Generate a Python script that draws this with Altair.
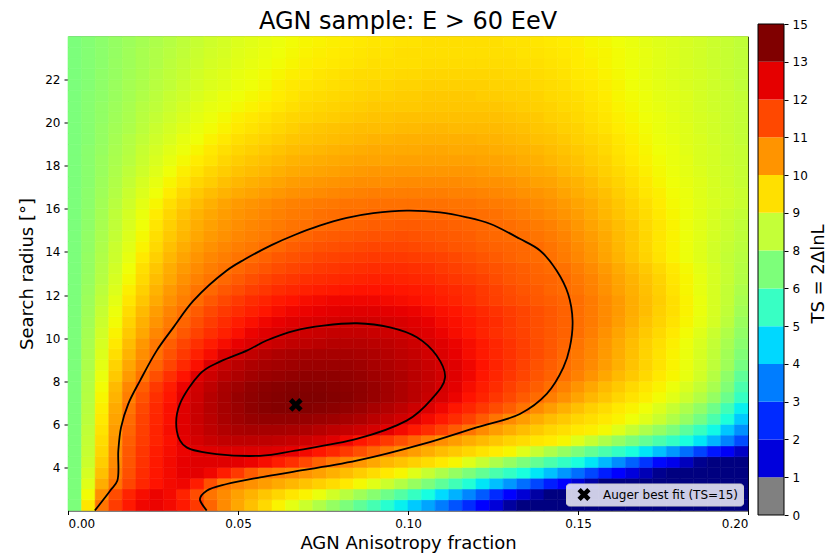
import altair as alt
import pandas as pd

# ---------------- text ----------------
TITLE = "AGN sample: E > 60 EeV"
X_LABEL = "AGN Anisotropy fraction"
Y_LABEL = "Search radius [°]"
CBAR_LABEL = "TS = 2ΔlnL"
LEGEND_LABEL = "Auger best fit (TS=15)"

# ---------------- data ----------------
# cell edges of the TS grid (anisotropy fraction, search radius in deg)
X_EDGES = [0.000, 0.004, 0.008, 0.012, 0.016, 0.020, 0.024, 0.028, 0.032, 0.036,
           0.040, 0.044, 0.048, 0.052, 0.056, 0.060, 0.064, 0.068, 0.072, 0.076,
           0.080, 0.084, 0.088, 0.092, 0.096, 0.100, 0.104, 0.108, 0.112, 0.116,
           0.120, 0.124, 0.128, 0.132, 0.136, 0.140, 0.144, 0.148, 0.152, 0.156,
           0.160, 0.164, 0.168, 0.172, 0.176, 0.180, 0.184, 0.188, 0.192, 0.196, 0.200]
Y_EDGES = [2.0, 2.5, 3.0, 3.5, 4.0, 4.5, 5.0, 5.5, 6.0, 6.5, 7.0, 7.5, 8.0, 8.5, 9.0,
           9.5, 10.0, 10.5, 11.0, 11.5, 12.0, 12.5, 13.0, 13.5, 14.0, 14.5, 15.0, 15.5,
           16.0, 16.5, 17.0, 17.5, 18.0, 18.5, 19.0, 19.5, 20.0, 20.5, 21.0, 21.5, 22.0,
           22.5, 23.0, 23.5, 24.0]

# TS value of each cell, one string per radius row (bottom row first), 50 fractions each
TS_ROWS = [
    "0 5.0 8.6 10.4 11.5 12.1 12.2 12.0 11.5 10.5 9.1 7.9 7.0 6.2 5.4 4.6 3.8 2.9 1.9 0.9 0.0 -1.0 -2.0 -3.1 -4.2 -5.3 -6.4 -7.6 -8.8 -10.0 -11.3 -12.7 -14.2 -15.6 -17 -17 -17 -17 -17 -17 -17 -17 -17 -17 -17 -17 -17 -17 -17 -17",
    "0 4.3 7.8 9.9 11.2 11.9 12.2 12.0 11.2 9.9 8.6 7.9 7.2 6.6 6.0 5.5 5.0 4.6 4.0 3.1 2.2 1.3 0.4 -0.5 -1.5 -2.6 -3.7 -4.8 -6.0 -7.3 -8.6 -10.0 -11.5 -12.8 -14.1 -15.4 -17 -17 -17 -17 -17 -17 -17 -17 -17 -17 -17 -17 -17 -17",
    "0 3.6 6.8 8.6 10.1 11.1 11.7 12.0 12.1 11.4 9.8 8.5 8.1 7.7 7.3 6.9 6.5 6.1 5.7 5.3 4.9 4.4 3.7 2.9 2.0 1.0 0.0 -1.1 -2.2 -3.3 -4.5 -5.6 -6.8 -8.0 -9.2 -10.4 -11.6 -12.8 -14.0 -15.2 -17 -17 -17 -17 -17 -17 -17 -17 -17 -17",
    "0 3.2 6.2 8.2 9.8 10.9 11.6 12.0 12.3 12.4 12.1 11.4 10.5 9.4 8.6 8.3 8.0 7.6 7.2 6.7 6.3 5.8 5.3 4.9 4.5 3.6 2.7 1.8 0.9 0.0 -0.9 -1.8 -2.7 -3.6 -4.5 -5.6 -6.8 -8.0 -9.2 -10.4 -11.6 -12.6 -13.6 -14.6 -15.6 -17 -17 -17 -17 -17",
    "0 2.9 5.8 7.9 9.6 10.7 11.5 12.0 12.3 12.5 12.5 12.5 12.4 12.2 11.9 11.4 10.8 10.0 9.2 8.5 8.0 7.5 7.0 6.5 6.1 5.7 5.3 4.9 4.5 3.6 2.7 1.8 0.9 0.0 -0.9 -1.8 -2.7 -3.6 -4.5 -5.8 -7.1 -8.4 -9.7 -11.0 -12.2 -13.4 -14.6 -15.8 -17 -17",
    "0 2.7 5.5 7.7 9.5 10.6 11.4 11.9 12.2 12.4 12.5 12.6 12.6 12.6 12.6 12.5 12.3 12.0 11.6 11.1 10.5 9.8 9.1 8.4 7.8 7.3 6.8 6.3 5.9 5.5 5.1 4.8 4.5 3.6 2.7 1.8 0.9 0.0 -0.9 -1.8 -2.7 -3.6 -4.5 -5.6 -6.8 -8.0 -9.3 -10.6 -11.9 -13.2",
    "0 2.6 5.3 7.5 9.3 10.4 11.2 11.8 12.4 12.8 13.1 13.3 13.4 13.4 13.4 13.3 13.2 13.0 12.8 12.5 12.1 11.6 11.1 10.5 9.8 9.1 8.4 7.8 7.3 6.8 6.4 6.0 5.6 5.3 5.0 4.8 4.5 3.6 2.7 1.8 0.9 0.0 -0.9 -1.8 -2.7 -3.6 -4.5 -5.9 -7.4 -9.0",
    "0 2.5 5.1 7.3 9.1 10.3 11.2 11.9 12.5 13.0 13.4 13.7 13.9 14.0 14.0 14.0 13.9 13.8 13.6 13.4 13.2 13.0 12.8 12.4 12.0 11.5 10.9 10.2 9.4 8.6 7.9 7.3 6.8 6.3 5.9 5.5 5.2 4.9 4.7 4.4 3.6 2.7 1.8 0.9 0.0 -1.2 -2.5 -3.9 -5.4 -7.0",
    "0 2.3 4.9 7.1 8.9 10.2 11.1 11.8 12.5 13.1 13.5 13.9 14.2 14.4 14.5 14.5 14.5 14.4 14.3 14.2 14.0 13.8 13.5 13.2 12.9 12.5 12.0 11.5 10.9 10.2 9.4 8.6 7.9 7.3 6.8 6.3 5.9 5.5 5.2 4.9 4.6 4.2 3.6 2.8 1.9 0.9 -0.3 -1.8 -3.5 -5.3",
    "0 2.2 4.7 6.9 8.6 10.0 11.0 11.8 12.5 13.1 13.6 14.0 14.3 14.6 14.8 14.9 14.9 14.9 14.8 14.7 14.5 14.3 14.0 13.7 13.4 13.0 12.6 12.1 11.6 11.1 10.5 9.9 9.3 8.6 7.9 7.3 6.7 6.2 5.7 5.3 4.9 4.6 4.2 3.5 2.7 1.8 0.8 -0.5 -2.2 -4.2",
    "0 2.1 4.5 6.6 8.3 9.7 10.8 11.6 12.4 13.0 13.6 14.0 14.4 14.6 14.8 14.9 15.0 15.0 15.0 14.9 14.8 14.6 14.4 14.1 13.8 13.5 13.1 12.7 12.2 11.7 11.2 10.6 10.0 9.4 8.9 8.3 7.7 7.1 6.5 6.0 5.5 5.1 4.7 4.3 3.7 2.9 2.0 0.9 -0.6 -2.6",
    "0 2.0 4.3 6.4 8.0 9.3 10.5 11.4 12.2 12.9 13.4 13.9 14.2 14.5 14.7 14.8 14.9 14.9 14.9 14.8 14.7 14.6 14.4 14.1 13.8 13.5 13.2 12.8 12.4 11.9 11.4 10.9 10.3 9.8 9.3 8.8 8.2 7.6 7.0 6.4 5.9 5.4 5.0 4.6 4.1 3.4 2.6 1.6 0.2 -1.8",
    "0 1.9 4.0 5.9 7.4 8.6 9.8 10.8 11.7 12.5 13.0 13.5 13.8 14.1 14.3 14.4 14.5 14.6 14.6 14.6 14.5 14.4 14.2 14.0 13.8 13.5 13.2 12.9 12.5 12.1 11.6 11.1 10.6 10.1 9.6 9.2 8.7 8.2 7.6 7.0 6.4 5.9 5.4 4.9 4.5 3.9 3.1 2.1 0.7 -1.0",
    "0 1.8 3.8 5.6 7.0 8.1 9.1 10.1 11.0 11.8 12.6 13.1 13.5 13.8 14.0 14.1 14.2 14.3 14.3 14.3 14.3 14.2 14.0 13.8 13.6 13.4 13.1 12.8 12.5 12.1 11.7 11.2 10.7 10.2 9.7 9.3 8.9 8.4 7.9 7.3 6.7 6.1 5.6 5.1 4.6 4.0 3.3 2.4 1.3 -0.2",
    "0 1.7 3.5 5.2 6.6 7.8 8.7 9.7 10.5 11.3 11.9 12.6 13.0 13.3 13.6 13.8 13.9 14.0 14.0 14.0 14.0 13.9 13.8 13.6 13.4 13.2 12.9 12.6 12.3 11.9 11.5 11.1 10.7 10.3 9.9 9.5 9.0 8.5 8.0 7.4 6.8 6.2 5.6 5.1 4.6 4.0 3.3 2.5 1.4 0.2",
    "0 1.6 3.3 4.9 6.3 7.5 8.5 9.3 10.1 10.8 11.4 11.9 12.3 12.6 12.9 13.1 13.3 13.4 13.5 13.6 13.6 13.6 13.5 13.4 13.2 13.0 12.8 12.5 12.2 11.9 11.5 11.1 10.7 10.3 9.9 9.5 9.1 8.6 8.1 7.5 6.9 6.3 5.7 5.2 4.7 4.1 3.4 2.6 1.6 0.5",
    "0 1.5 3.1 4.6 5.9 7.0 8.0 8.7 9.5 10.2 10.8 11.3 11.8 12.2 12.5 12.7 12.9 13.0 13.1 13.2 13.2 13.2 13.1 13.0 12.9 12.7 12.5 12.2 11.9 11.6 11.2 10.8 10.5 10.2 9.8 9.5 9.2 8.8 8.3 7.7 7.1 6.5 5.9 5.4 4.9 4.3 3.6 2.8 1.9 0.8",
    "0 1.4 2.9 4.3 5.6 6.7 7.6 8.4 9.1 9.8 10.4 10.9 11.4 11.8 12.1 12.3 12.5 12.6 12.7 12.8 12.9 12.9 12.9 12.8 12.7 12.5 12.3 12.0 11.8 11.5 11.2 10.9 10.5 10.1 9.8 9.5 9.2 8.8 8.4 7.9 7.3 6.7 6.1 5.6 5.1 4.5 3.9 3.2 2.3 1.1",
    "0 1.3 2.7 4.1 5.3 6.4 7.3 8.1 8.7 9.4 10.0 10.5 10.9 11.3 11.6 11.9 12.1 12.2 12.3 12.4 12.5 12.5 12.5 12.4 12.3 12.2 12.0 11.8 11.6 11.3 11.0 10.7 10.4 10.1 9.8 9.5 9.2 8.8 8.4 7.9 7.4 6.8 6.3 5.7 5.2 4.6 4.0 3.3 2.5 1.4",
    "0 1.2 2.5 3.8 5.0 6.0 6.9 7.7 8.3 8.9 9.5 10.0 10.5 10.9 11.2 11.5 11.7 11.9 12.0 12.1 12.1 12.1 12.1 12.0 11.9 11.8 11.6 11.4 11.2 10.9 10.6 10.3 10.0 9.8 9.5 9.3 9.1 8.8 8.4 7.9 7.4 6.8 6.3 5.8 5.2 4.6 4.0 3.3 2.6 1.6",
    "0 1.1 2.3 3.5 4.7 5.7 6.6 7.4 8.0 8.6 9.0 9.5 9.9 10.3 10.6 10.9 11.1 11.3 11.4 11.5 11.6 11.7 11.7 11.7 11.6 11.5 11.4 11.2 11.0 10.8 10.5 10.2 9.9 9.6 9.4 9.1 8.9 8.6 8.2 7.7 7.2 6.7 6.2 5.7 5.1 4.5 3.9 3.3 2.6 1.8",
    "0 1.0 2.1 3.3 4.4 5.4 6.3 7.0 7.7 8.2 8.6 9.0 9.4 9.8 10.1 10.4 10.6 10.8 10.9 11.0 11.1 11.2 11.3 11.3 11.2 11.1 11.0 10.8 10.6 10.4 10.2 9.9 9.6 9.4 9.2 9.1 8.9 8.5 8.1 7.6 7.1 6.6 6.1 5.6 5.0 4.5 3.9 3.3 2.7 2.0",
    "0 0.9 2.0 3.1 4.2 5.2 6.0 6.8 7.4 7.9 8.3 8.6 9.0 9.3 9.6 9.9 10.1 10.3 10.5 10.6 10.7 10.8 10.9 10.9 10.9 10.8 10.7 10.5 10.3 10.1 9.9 9.7 9.5 9.3 9.1 8.9 8.7 8.3 7.9 7.4 6.9 6.4 5.9 5.4 4.9 4.4 3.8 3.3 2.7 2.1",
    "0 0.9 1.9 2.9 3.9 4.9 5.7 6.5 7.1 7.6 8.0 8.3 8.6 8.9 9.2 9.5 9.7 9.9 10.1 10.2 10.3 10.4 10.5 10.5 10.5 10.4 10.3 10.2 10.0 9.8 9.6 9.4 9.2 9.0 8.9 8.7 8.4 8.0 7.6 7.1 6.6 6.1 5.6 5.1 4.6 4.1 3.6 3.1 2.6 2.2",
    "0 0.8 1.8 2.8 3.7 4.6 5.4 6.2 6.8 7.3 7.7 8.0 8.3 8.5 8.8 9.0 9.3 9.5 9.7 9.8 9.9 10.0 10.1 10.1 10.1 10.0 9.9 9.8 9.6 9.5 9.3 9.2 9.1 9.0 8.9 8.6 8.3 7.9 7.5 7.0 6.5 6.0 5.5 5.0 4.6 4.1 3.6 3.1 2.7 2.3",
    "0 0.8 1.7 2.6 3.5 4.4 5.2 5.9 6.5 7.0 7.4 7.7 8.0 8.2 8.4 8.7 8.9 9.1 9.3 9.4 9.5 9.6 9.7 9.7 9.8 9.7 9.6 9.5 9.4 9.3 9.1 9.0 8.9 8.8 8.6 8.4 8.1 7.7 7.3 6.9 6.4 6.0 5.5 5.0 4.6 4.1 3.7 3.2 2.8 2.4",
    "0 0.7 1.6 2.5 3.4 4.2 5.0 5.7 6.3 6.8 7.2 7.5 7.8 8.0 8.2 8.4 8.6 8.7 8.9 9.0 9.1 9.2 9.3 9.3 9.4 9.4 9.3 9.3 9.2 9.1 9.0 8.9 8.8 8.6 8.4 8.2 7.9 7.5 7.1 6.7 6.3 5.9 5.4 5.0 4.6 4.1 3.7 3.3 2.9 2.5",
    "0 0.7 1.5 2.4 3.2 4.0 4.8 5.5 6.1 6.6 7.0 7.3 7.6 7.8 8.0 8.2 8.4 8.5 8.7 8.8 8.9 8.9 9.0 9.0 9.0 9.0 9.0 9.0 8.9 8.9 8.8 8.7 8.5 8.3 8.1 7.9 7.6 7.3 6.9 6.5 6.1 5.7 5.3 4.9 4.5 4.1 3.7 3.3 2.9 2.6",
    "0 0.6 1.4 2.2 3.0 3.8 4.5 5.2 5.8 6.3 6.7 7.1 7.4 7.6 7.8 8.0 8.2 8.3 8.4 8.5 8.6 8.6 8.7 8.7 8.7 8.7 8.7 8.7 8.6 8.6 8.5 8.4 8.3 8.1 7.9 7.7 7.4 7.1 6.8 6.4 6.0 5.6 5.2 4.8 4.4 4.1 3.7 3.4 3.1 2.8",
    "0 0.6 1.3 2.0 2.8 3.5 4.2 4.8 5.4 5.9 6.3 6.6 6.9 7.1 7.3 7.5 7.7 7.8 7.9 8.0 8.1 8.2 8.3 8.3 8.3 8.3 8.3 8.3 8.2 8.2 8.1 8.0 7.9 7.7 7.6 7.4 7.1 6.8 6.5 6.2 5.8 5.4 5.0 4.7 4.3 4.0 3.6 3.3 3.1 2.8",
    "0 0.5 1.2 1.9 2.6 3.3 3.9 4.5 5.0 5.5 5.8 6.2 6.5 6.7 6.9 7.1 7.3 7.4 7.5 7.6 7.7 7.8 7.8 7.8 7.9 7.9 7.9 7.9 7.9 7.8 7.7 7.7 7.6 7.4 7.2 7.1 6.8 6.6 6.3 5.9 5.6 5.2 4.9 4.5 4.2 3.9 3.6 3.3 3.0 2.7",
    "0 0.5 1.1 1.8 2.4 3.0 3.6 4.2 4.7 5.1 5.5 5.8 6.1 6.3 6.5 6.7 6.9 7.0 7.1 7.2 7.3 7.4 7.5 7.5 7.5 7.5 7.5 7.5 7.5 7.5 7.4 7.3 7.2 7.1 6.9 6.8 6.5 6.3 6.0 5.7 5.4 5.1 4.7 4.4 4.1 3.8 3.5 3.2 3.0 2.7",
    "0 0.5 1.1 1.7 2.2 2.8 3.4 3.9 4.4 4.8 5.1 5.5 5.8 6.0 6.2 6.4 6.6 6.7 6.8 6.9 7.0 7.1 7.1 7.1 7.2 7.2 7.2 7.2 7.2 7.2 7.1 7.1 7.0 6.8 6.7 6.5 6.3 6.1 5.8 5.6 5.2 4.9 4.6 4.3 4.0 3.8 3.4 3.2 2.9 2.7",
    "0 0.5 1.0 1.6 2.1 2.7 3.2 3.7 4.1 4.5 4.9 5.2 5.5 5.7 5.9 6.1 6.3 6.4 6.5 6.6 6.7 6.8 6.9 6.9 6.9 6.9 7.0 7.0 6.9 6.9 6.9 6.8 6.7 6.6 6.5 6.3 6.1 5.9 5.7 5.4 5.1 4.8 4.5 4.2 4.0 3.7 3.4 3.2 2.9 2.7",
    "0 0.4 0.9 1.5 2.0 2.5 3.0 3.4 3.9 4.2 4.6 4.9 5.2 5.4 5.6 5.8 6.0 6.1 6.2 6.3 6.4 6.5 6.6 6.6 6.7 6.7 6.7 6.7 6.7 6.7 6.6 6.6 6.5 6.4 6.2 6.1 5.9 5.7 5.5 5.3 5.0 4.7 4.4 4.1 3.9 3.6 3.4 3.1 2.9 2.6",
    "0 0.4 0.9 1.4 1.8 2.3 2.8 3.2 3.6 4.0 4.3 4.6 4.9 5.1 5.3 5.5 5.7 5.9 6.0 6.1 6.2 6.3 6.3 6.3 6.4 6.4 6.5 6.5 6.4 6.4 6.4 6.4 6.3 6.2 6.0 5.9 5.7 5.6 5.3 5.1 4.8 4.6 4.3 4.0 3.8 3.6 3.3 3.1 2.8 2.6",
    "0 0.4 0.8 1.3 1.7 2.2 2.6 3.0 3.4 3.8 4.1 4.4 4.7 4.9 5.1 5.3 5.5 5.6 5.7 5.8 5.9 6.0 6.1 6.1 6.2 6.2 6.2 6.2 6.2 6.2 6.2 6.2 6.1 6.0 5.9 5.7 5.6 5.4 5.2 5.0 4.7 4.5 4.2 4.0 3.8 3.5 3.3 3.1 2.8 2.6",
    "0 0.4 0.8 1.2 1.6 2.1 2.4 2.8 3.2 3.6 3.9 4.1 4.4 4.6 4.8 5.0 5.2 5.4 5.5 5.6 5.7 5.8 5.9 5.9 5.9 5.9 6.0 6.0 6.0 6.0 6.0 6.0 5.9 5.8 5.7 5.6 5.4 5.3 5.1 4.9 4.6 4.4 4.1 3.9 3.7 3.5 3.2 3.0 2.8 2.6",
    "0 0.4 0.7 1.1 1.5 1.9 2.3 2.7 3.0 3.4 3.7 4.0 4.2 4.4 4.6 4.8 5.0 5.2 5.3 5.4 5.5 5.6 5.7 5.7 5.8 5.8 5.9 5.9 5.9 5.9 5.8 5.8 5.7 5.7 5.6 5.4 5.3 5.2 5.0 4.8 4.5 4.3 4.1 3.8 3.7 3.5 3.2 3.0 2.8 2.6",
    "0 0.3 0.7 1.1 1.5 1.8 2.2 2.5 2.9 3.2 3.5 3.7 4.0 4.2 4.4 4.7 4.9 5.0 5.1 5.2 5.3 5.4 5.5 5.5 5.6 5.6 5.7 5.7 5.7 5.7 5.7 5.6 5.6 5.5 5.4 5.3 5.2 5.0 4.9 4.7 4.5 4.2 4.0 3.8 3.6 3.4 3.2 3.0 2.8 2.5",
    "0 0.3 0.7 1.0 1.4 1.7 2.1 2.4 2.7 3.1 3.4 3.6 3.9 4.1 4.3 4.5 4.7 4.8 5.0 5.1 5.2 5.3 5.3 5.3 5.4 5.4 5.5 5.5 5.5 5.5 5.5 5.5 5.4 5.4 5.3 5.2 5.1 4.9 4.8 4.6 4.4 4.2 3.9 3.7 3.5 3.4 3.2 3.0 2.7 2.5",
    "0 0.3 0.6 1.0 1.3 1.6 1.9 2.3 2.6 2.9 3.2 3.4 3.7 3.9 4.1 4.3 4.5 4.7 4.8 4.9 5.0 5.1 5.2 5.2 5.2 5.2 5.3 5.3 5.3 5.3 5.3 5.3 5.3 5.2 5.2 5.1 5.0 4.8 4.7 4.5 4.3 4.1 3.9 3.7 3.5 3.3 3.1 2.9 2.7 2.5",
    "0 0.3 0.6 0.9 1.3 1.6 1.9 2.2 2.5 2.8 3.1 3.3 3.6 3.8 4.0 4.2 4.4 4.6 4.7 4.8 4.9 5.0 5.1 5.1 5.2 5.2 5.2 5.2 5.2 5.2 5.2 5.2 5.2 5.1 5.1 5.0 4.9 4.8 4.6 4.5 4.3 4.1 3.9 3.7 3.5 3.3 3.1 2.9 2.7 2.5",
    "0 0.3 0.6 0.9 1.2 1.5 1.8 2.1 2.4 2.7 3.0 3.2 3.5 3.7 3.9 4.1 4.3 4.5 4.6 4.7 4.8 4.9 5.0 5.0 5.1 5.1 5.2 5.2 5.2 5.2 5.2 5.2 5.1 5.1 5.0 4.9 4.8 4.7 4.5 4.4 4.2 4.0 3.8 3.6 3.5 3.3 3.1 2.9 2.7 2.5",
]

# contour lines (outer: open at the lower edge; inner: closed)
OUTER_X = [0.0079, 0.0124, 0.0145, 0.0148, 0.0156, 0.0177, 0.0212, 0.0261, 0.0310, 0.0369,
           0.0467, 0.0520, 0.0600, 0.0668, 0.0740, 0.0820, 0.0898, 0.0996, 0.1094, 0.1170,
           0.1241, 0.1329, 0.1388, 0.1437, 0.1471, 0.1484, 0.1476, 0.1457, 0.1408, 0.1329,
           0.1202, 0.1045, 0.0849, 0.0653, 0.0565, 0.0467, 0.0408, 0.0388, 0.0408]
OUTER_Y = [2.00, 2.92, 3.38, 4.78, 5.86, 6.94, 8.03, 9.42, 10.50, 11.74,
           13.14, 13.66, 14.33, 14.80, 15.22, 15.58, 15.80, 15.92, 15.84, 15.62,
           15.31, 14.61, 14.07, 13.14, 12.05, 10.81, 9.57, 8.64, 7.41, 6.48,
           5.86, 5.09, 4.31, 3.77, 3.54, 3.23, 2.92, 2.53, 2.00]
INNER_X = [0.0668, 0.0565, 0.0437, 0.0349, 0.0320, 0.0329, 0.0388, 0.0447, 0.0526, 0.0584,
           0.0668, 0.0751, 0.0850, 0.0947, 0.1026, 0.1084, 0.1109, 0.1074, 0.0996, 0.0849]
INNER_Y = [4.78, 4.54, 4.62, 4.93, 5.70, 6.94, 8.34, 8.91, 9.42, 9.89,
           10.35, 10.58, 10.69, 10.50, 10.04, 9.19, 8.18, 7.25, 6.17, 5.32]

BEST_X = [0.067]
BEST_Y = [6.9]

X_TICKS = [0.0, 0.05, 0.10, 0.15, 0.20]
Y_TICKS = [4, 6, 8, 10, 12, 14, 16, 18, 20, 22]

CBAR_BOUNDS = [0, 1, 2, 3, 4, 5, 6, 8, 9, 10, 11, 12, 13, 15]
CBAR_COLORS = ["#808080", "#0000dc", "#002aff", "#007dff", "#00d8ff", "#38ffc4",
               "#7dff7a", "#c4ff38", "#ffe000", "#ff9400", "#ff4800", "#e50000", "#800000"]

# ---------------- style ----------------
FONT = "DejaVu Sans"
# matplotlib 'jet' breakpoints, shown over TS -15 .. 15
JET_DOMAIN = [-15.0, -11.7, -11.25, -4.8, -4.5, -3.75, 4.2, 4.5, 4.8, 11.7, 12.3, 15.0]
JET_RANGE = ["#000080", "#0000ff", "#0000ff", "#00dbff", "#00e6f7", "#15ffe2",
             "#efff08", "#f7f600", "#ffec00", "#ff1300", "#e80000", "#800000"]
X_MARK = "M-1,-0.5L-0.5,-1L0,-0.5L0.5,-1L1,-0.5L0.5,0L1,0.5L0.5,1L0,0.5L-0.5,1L-1,0.5L-0.5,0Z"
PLOT_W, PLOT_H = 680, 474
CBAR_W, CBAR_H, CBAR_VIEW_H = 26, 491, 499

# ---------------- tables ----------------
cells = []
for j, row in enumerate(TS_ROWS):
    vals = [float(v) for v in row.split()]
    assert len(vals) == len(X_EDGES) - 1, (j, len(vals))
    for i, v in enumerate(vals):
        cells.append({"x0": X_EDGES[i], "x1": X_EDGES[i + 1],
                      "y0": Y_EDGES[j], "y1": Y_EDGES[j + 1], "ts": v})
cells = pd.DataFrame(cells)
assert len(TS_ROWS) == len(Y_EDGES) - 1

outer_df = pd.DataFrame({"x": OUTER_X, "y": OUTER_Y, "k": list(range(len(OUTER_X)))})
inner_df = pd.DataFrame({"x": INNER_X, "y": INNER_Y, "k": list(range(len(INNER_X)))})
best_df = pd.DataFrame({"x": BEST_X, "y": BEST_Y, "label": [LEGEND_LABEL]})

x_scale = alt.Scale(domain=[X_EDGES[0], X_EDGES[-1]], nice=False, zero=False)
y_scale = alt.Scale(domain=[Y_EDGES[0], Y_EDGES[-1]], nice=False, zero=False)
x_axis = alt.Axis(values=X_TICKS, format=".2f", tickSize=4, labelPadding=4,
                  titlePadding=5, grid=False, domain=False)
y_axis = alt.Axis(values=Y_TICKS, format="d", tickSize=4, labelPadding=4,
                  titlePadding=8, grid=False, domain=False)


def X(f):
    return alt.X(f, type="quantitative", scale=x_scale, axis=x_axis, title=X_LABEL)


def Y(f):
    return alt.Y(f, type="quantitative", scale=y_scale, axis=y_axis, title=Y_LABEL)


jet = alt.Scale(domain=JET_DOMAIN, range=JET_RANGE, interpolate="rgb", clamp=True)

heat = alt.Chart(cells).mark_rect(strokeWidth=0.6).encode(
    x=X("x0"), x2="x1:Q", y=Y("y0"), y2="y1:Q",
    color=alt.Color("ts:Q", scale=jet, legend=None),
    stroke=alt.Stroke("ts:Q", scale=jet, legend=None),
)

outer = alt.Chart(outer_df).mark_line(color="black", strokeWidth=1.8,
                                      interpolate="catmull-rom").encode(
    x=X("x"), y=Y("y"), order="k:Q")
inner = alt.Chart(inner_df).mark_line(color="black", strokeWidth=1.8,
                                      interpolate="cardinal-closed").encode(
    x=X("x"), y=Y("y"), order="k:Q")

best = alt.Chart(best_df).mark_point(filled=True, color="black", size=190, opacity=1).encode(
    x=X("x"), y=Y("y"),
    shape=alt.Shape("label:N", scale=alt.Scale(domain=[LEGEND_LABEL], range=[X_MARK]),
                    legend=alt.Legend(title=None, orient="bottom-right", offset=5, padding=4,
                                      fillColor="rgba(255,255,255,0.8)", strokeColor="#cccccc",
                                      cornerRadius=3, labelFont=FONT, labelFontSize=12,
                                      labelColor="black", symbolSize=170,
                                      symbolFillColor="black", symbolStrokeColor="black",
                                      symbolStrokeWidth=0, symbolOffset=7, labelOffset=12)),
)

main = alt.layer(heat, outer, inner, best).properties(
    width=PLOT_W, height=PLOT_H,
    title=alt.TitleParams(TITLE, fontSize=24, fontWeight="normal", font=FONT,
                          color="black", anchor="middle", offset=2),
    view=alt.ViewBackground(stroke="black", strokeWidth=1),
)

# colour bar: equal-height blocks, the view is a little taller than the bar so that the
# centred layout puts the bar slightly above the main plot, as in the reference
n_blocks = len(CBAR_COLORS)
cb_df = pd.DataFrame({"lo": list(range(n_blocks)),
                      "hi": list(range(1, n_blocks + 1)),
                      "c": CBAR_COLORS})
frame_df = pd.DataFrame({"lo": [0], "hi": [n_blocks]})
cb_low = -(CBAR_VIEW_H - CBAR_H) / (CBAR_H / n_blocks)
cb_scale = alt.Scale(domain=[cb_low, n_blocks], nice=False, zero=False)
label_expr = "[" + ",".join("'%s'" % b for b in CBAR_BOUNDS) + "][datum.value]"
cb_axis = alt.Axis(orient="right", values=list(range(len(CBAR_BOUNDS))),
                   labelExpr=label_expr, tickSize=4, labelPadding=4, titlePadding=2,
                   titleAngle=270, titleBaseline="top", grid=False, domain=False)

cb_blocks = alt.Chart(cb_df).mark_rect().encode(
    y=alt.Y("lo:Q", scale=cb_scale, axis=cb_axis, title=CBAR_LABEL),
    y2="hi:Q",
    fill=alt.Fill("c:N", scale=None, legend=None),
)
cb_frame = alt.Chart(frame_df).mark_rect(fillOpacity=0, stroke="black", strokeWidth=1).encode(
    y=alt.Y("lo:Q", scale=cb_scale, axis=cb_axis, title=CBAR_LABEL),
    y2="hi:Q",
)
cbar = alt.layer(cb_blocks, cb_frame).properties(width=CBAR_W, height=CBAR_VIEW_H)

chart = alt.hconcat(main, cbar, spacing=10, bounds="flush", center=True).resolve_scale(
    y="independent", x="independent", fill="independent", shape="independent"
).resolve_legend(shape="independent").properties(
    padding={"left": 18, "top": 9, "right": 0, "bottom": 0},
    background="white",
).configure(font=FONT).configure_axis(
    labelFont=FONT, labelFontSize=12, labelColor="black",
    titleFont=FONT, titleFontSize=18, titleFontWeight="normal", titleColor="black",
    tickColor="black", tickWidth=1,
).configure_view(stroke=None)

chart.save("out.html", embed_options={"renderer": "svg", "actions": False})
